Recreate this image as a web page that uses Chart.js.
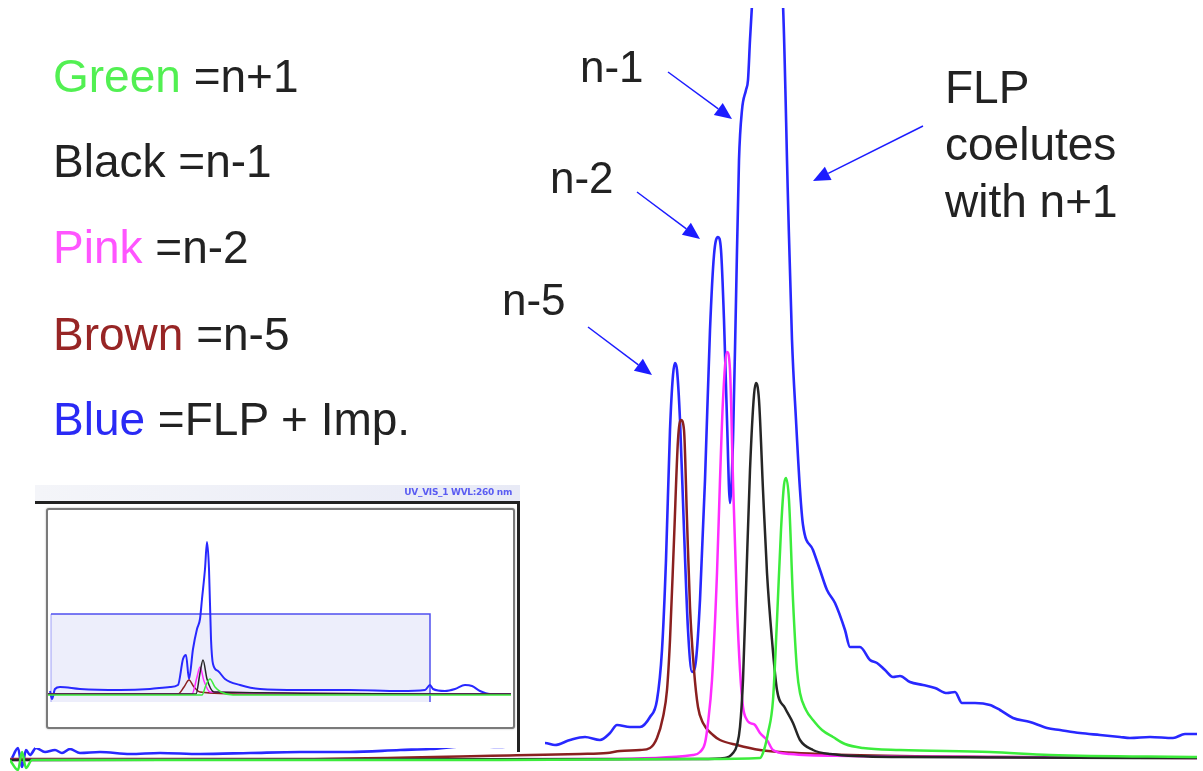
<!DOCTYPE html>
<html>
<head>
<meta charset="utf-8">
<script src="https://cdn.jsdelivr.net/npm/chart.js@4"></script>
<style>
  body { margin: 0; background: #fff; }
  #wrap { position: relative; width: 1203px; height: 771px; overflow: hidden; font-family: "Liberation Sans", Arial, sans-serif; }
  #main { position: absolute; left: 0; top: 0; }
  .txt { position: absolute; white-space: pre; color: #222; line-height: 1; }
  .key { font-size: 46px; left: 53px; }
  .peak { font-size: 44px; }
  #flp { left: 945px; top: 59px; font-size: 46px; line-height: 57px; }
  #insetBack { position: absolute; left: 35px; top: 483px; width: 510px; height: 265px; background: #fff; }
  #insetHead { position: absolute; left: 35px; top: 485px; width: 485px; height: 16px;
    background: linear-gradient(to right, #f4f5f9, #e8eaf6); }
  #insetHead span { position: absolute; right: 8px; top: 2px; font: bold 9px "DejaVu Sans", sans-serif;
    color: #5a5cf2; letter-spacing: -0.3px; filter: blur(0.4px); }
  #insetFrame { position: absolute; left: 35px; top: 501px; width: 482px; height: 248px;
    border-top: 3px solid #222; border-right: 3px solid #222; }
  #insetBox { position: absolute; left: 46px; top: 508px; width: 465px; height: 217px;
    border: 2px solid #7a7a7a; border-radius: 3px; background: #fff; box-shadow: 0 0 2px #aaa; }
  #inset { position: absolute; left: 48px; top: 510px; }
</style>
</head>
<body>
<div id="wrap">
  <canvas id="main" width="1203" height="771"></canvas>

  <div class="txt key" style="top:53px"><span style="color:#52f052">Green</span> =n+1</div>
  <div class="txt key" style="top:138px">Black =n-1</div>
  <div class="txt key" style="top:224px"><span style="color:#ff55ff">Pink</span> =n-2</div>
  <div class="txt key" style="top:311px"><span style="color:#972525">Brown</span> =n-5</div>
  <div class="txt key" style="top:396px"><span style="color:#2a2af5">Blue</span> =FLP + Imp.</div>

  <div class="txt peak" style="left:580px; top:45px">n-1</div>
  <div class="txt peak" style="left:550px; top:156px">n-2</div>
  <div class="txt peak" style="left:502px; top:278px">n-5</div>
  <div class="txt" id="flp">FLP<br>coelutes<br>with n+1</div>

  <div id="insetBack"></div>
  <div id="insetHead"><span>UV_VIS_1 WVL:260 nm</span></div>
  <div id="insetFrame"></div>
  <div id="insetBox"></div>
  <canvas id="inset" width="463" height="215"></canvas>
</div>

<script>
// retention time (arbitrary units) and detector signal for each trace
const blueTime = [0.2, 0.8, 1.2, 1.6, 2.0, 2.6, 3.5, 4.5, 5.2, 6.0, 7.0, 9.0, 12.0, 15.0, 19.0, 24.0, 29.0, 34.0, 39.0, 42.0,
  46.0, 49.0, 51.0, 53.5, 54.5, 56.0, 57.5, 59.0, 60.0, 60.7, 62.0, 63.0, 64.0, 64.7, 65.2, 65.6, 66.0, 66.3, 66.5, 66.7,
  67.0, 67.4, 67.8, 68.2, 68.6, 69.0, 69.5, 70.0, 70.4, 70.8, 71.1, 71.4, 71.7, 72.0, 72.3, 72.6, 72.9, 73.2, 73.6, 73.8,
  74.0, 74.2, 74.6, 75.5, 76.5, 77.3, 77.8, 78.2, 78.6, 79.0, 79.3, 80.3, 81.0, 81.7, 82.5, 83.5, 84.0, 85.0, 86.0, 86.7,
  87.5, 88.3, 89.0, 90.0, 91.3, 92.5, 93.7, 94.5, 95.2, 96.5, 98.0, 99.0, 100.3, 102.0, 103.7, 105.0, 107.0, 109.0, 111.0,
  112.0, 114.0, 116.3, 117.5, 118.7];
const blueSignal = [1.3, 2.3, 0.4, 2.1, 1.6, 2.3, 1.9, 2.1, 1.8, 2.2, 1.8, 1.9, 1.7, 1.8, 1.7, 1.8, 1.9, 1.9, 2.1, 2.2,
  2.5, 2.4, 2.6, 2.8, 2.6, 3.1, 3.4, 3.1, 3.8, 4.6, 4.4, 4.4, 5.4, 7.1, 12.1, 21.1, 34.1, 39.6, 40.8, 40.1,
  35.1, 24.1, 14.1, 9.9, 11.1, 17.1, 29.1, 44.1, 51.6, 53.4, 52.1, 45.1, 35.1, 26.8, 33.1, 47.1, 61.1, 66.1, 68.1, 69.1,
  73.1, 76.6, 83.1, 89.1, 83.1, 76.6, 57.1, 43.1, 35.1, 28.1, 24.6, 22.1, 20.1, 18.1, 16.8, 14.1, 12.4, 12.4, 11.1, 10.8,
  10.1, 9.4, 9.5, 8.9, 8.6, 8.3, 7.8, 7.9, 6.8, 6.8, 6.6, 6.1, 5.3, 4.9, 4.3, 4.1, 3.8, 3.6, 3.4,
  3.3, 3.4, 3.3, 3.7, 3.7];

const brownTime = [0, 29, 52, 57, 59.7, 61, 63, 64, 64.7, 65.3, 65.7, 66, 66.4, 66.8, 67.1, 67.4, 67.7, 68, 68.4, 68.8,
  69.3, 70.3, 71, 72.7, 75, 77, 84, 99, 118.7];
const brownSignal = [1.2, 1.2, 1.6, 1.7, 1.8, 2.0, 2.1, 2.3, 3.3, 5.4, 8.1, 13.1, 23.1, 33.1, 35.1, 34.1, 25.1, 16.4, 10.1, 6.4,
  4.8, 3.6, 3.1, 2.6, 2.1, 1.9, 1.6, 1.4, 1.3];

const pinkTime = [0, 59, 68.3, 69, 69.5, 69.8, 70.2, 70.7, 71, 71.3, 71.7, 72, 72.3, 72.7, 73, 73.3, 73.7, 74, 74.5, 75,
  75.7, 76.3, 78, 84, 99, 118.7];
const pinkSignal = [1.1, 1.2, 1.6, 1.9, 2.8, 4.8, 9.1, 19.8, 29.1, 37.1, 41.9, 40.1, 29.1, 16.4, 10.1, 6.4, 5.1, 4.8, 4.6, 3.8,
  3.1, 2.1, 1.7, 1.5, 1.4, 1.3];

const blackTime = [0, 69, 71.5, 72.3, 72.7, 73, 73.3, 73.6, 74, 74.4, 74.6, 74.9, 75.3, 75.7, 76.2, 76.7, 77.5, 78.3, 79,
  80.3, 82, 89, 118.7];
const blackSignal = [1.1, 1.2, 1.3, 1.8, 2.6, 4.4, 9.1, 18.1, 30.1, 37.6, 38.8, 37.1, 28.1, 19.8, 13.1, 8.1, 6.3, 4.8, 3.1,
  2.1, 1.7, 1.4, 1.3];

const greenTime = [0, 0.8, 1.2, 1.6, 2.2, 49, 69, 75, 75.4, 75.8, 76.3, 76.7, 77.1, 77.4, 77.6, 77.9, 78.3, 78.7, 79,
  79.6, 80.3, 81.2, 82.3, 83.5, 85.3, 89, 98, 104, 118.7];
const greenSignal = [1.1, 0.1, 1.9, 0.3, 1.1, 1.1, 1.2, 1.3, 2.1, 3.8, 7.1, 15.1, 24.1, 28.6, 29.3, 27.1, 17.1, 10.1, 7.8,
  6.1, 5.1, 4.1, 3.4, 2.7, 2.3, 2.1, 1.9, 1.6, 1.4];

// overview trace of the whole run
const overviewTime = [0.2, 0.4, 0.7, 1.2, 3.2, 7.2, 10.2, 12.2, 13.0, 13.5, 13.8, 14.1, 14.5, 14.9, 15.2, 15.4, 15.7, 15.9,
  16.1, 16.3, 16.5, 17.0, 17.7, 19.2, 21.2, 25.2, 30.2, 35.2, 37.7, 38.2, 38.5, 39.7, 40.7, 41.7, 42.4, 43.2, 44.2, 46.4];
const overviewSignal = [3.4, 2.6, 3.6, 3.8, 3.6, 3.5, 3.6, 3.8, 4.0, 6.6, 7.0, 4.6, 7.6, 9.6, 10.6, 12.6, 15.6, 18.3,
  15.6, 8.6, 6.1, 5.4, 4.6, 4.0, 3.6, 3.5, 3.5, 3.4, 3.5, 4.0, 3.6, 3.4, 3.6, 4.0, 3.9, 3.4, 3.1, 3.1];
const overviewBrownTime = [0, 13.0, 13.6, 14.1, 14.6, 15.2, 20, 46.4];
const overviewBrownSignal = [3.1, 3.1, 3.8, 4.5, 3.8, 3.3, 3.1, 3.1];
const overviewPinkTime = [0, 14.4, 14.9, 15.2, 15.6, 16.2, 46.4];
const overviewPinkSignal = [3.1, 3.1, 4.8, 5.8, 4.4, 3.3, 3.1];
const overviewBlackTime = [0, 14.8, 15.2, 15.5, 15.9, 16.6, 46.4];
const overviewBlackSignal = [3.1, 3.1, 5.2, 6.5, 4.6, 3.3, 3.1];
const overviewGreenTime = [0, 15.4, 15.8, 16.2, 16.7, 17.3, 18.5, 46.4];
const overviewGreenSignal = [3.0, 3.0, 4.0, 4.6, 3.8, 3.3, 3.0, 3.0];
const zoomWindow = { from: 0.3, to: 38.2, low: 2.3, high: 11.1 };

// arrows: start and tip in data units
const arrows = [
  { x0: 65.8, y0: 69.9, x1: 72.2, y1: 65.2 },
  { x0: 62.7, y0: 57.9, x1: 69.0, y1: 53.2 },
  { x0: 57.8, y0: 44.4, x1: 64.2, y1: 39.6 },
  { x0: 91.3, y0: 64.5, x1: 80.3, y1: 59.0 }
];

function pts(xs, ys) {
  return xs.map((x, i) => ({ x: x, y: ys[i] }));
}

function trace(xs, ys, color, width) {
  return {
    data: pts(xs, ys),
    borderColor: color,
    borderWidth: width,
    pointRadius: 0,
    fill: false,
    cubicInterpolationMode: 'monotone'
  };
}

const arrowPlugin = {
  id: 'arrows',
  afterDatasetsDraw(chart) {
    const ctx = chart.ctx, xs = chart.scales.x, ys = chart.scales.y;
    ctx.save();
    ctx.strokeStyle = '#1c1cff';
    ctx.fillStyle = '#1c1cff';
    ctx.lineWidth = 1.5;
    arrows.forEach(a => {
      const x0 = xs.getPixelForValue(a.x0), y0 = ys.getPixelForValue(a.y0);
      const x1 = xs.getPixelForValue(a.x1), y1 = ys.getPixelForValue(a.y1);
      const ang = Math.atan2(y1 - y0, x1 - x0);
      const len = 17, half = 7.5;
      const bx = x1 - len * Math.cos(ang), by = y1 - len * Math.sin(ang);
      ctx.beginPath();
      ctx.moveTo(x0, y0);
      ctx.lineTo(bx, by);
      ctx.stroke();
      ctx.beginPath();
      ctx.moveTo(x1, y1);
      ctx.lineTo(bx + half * Math.sin(ang), by - half * Math.cos(ang));
      ctx.lineTo(bx - half * Math.sin(ang), by + half * Math.cos(ang));
      ctx.closePath();
      ctx.fill();
    });
    ctx.restore();
  }
};

// green on top, blue underneath
new Chart(document.getElementById('main'), {
  type: 'line',
  data: {
    datasets: [
      trace(greenTime, greenSignal, '#3cec3c', 2.5),
      trace(blackTime, blackSignal, '#262626', 2.5),
      trace(pinkTime, pinkSignal, '#ff2cff', 2.5),
      trace(brownTime, brownSignal, '#8a2020', 2.5),
      trace(blueTime, blueSignal, '#2828ff', 2.6)
    ]
  },
  options: {
    responsive: false,
    animation: false,
    layout: { padding: { left: 10, right: 6, top: 8, bottom: 0 } },
    plugins: { legend: { display: false }, tooltip: { enabled: false } },
    scales: {
      x: { type: 'linear', min: 0, max: 118.7, display: false },
      y: { min: 0, max: 76.3, display: false }
    }
  },
  plugins: [arrowPlugin]
});

const windowPlugin = {
  id: 'zoomWindow',
  beforeDatasetsDraw(chart) {
    const ctx = chart.ctx, xs = chart.scales.x, ys = chart.scales.y;
    const l = xs.getPixelForValue(zoomWindow.from), r = xs.getPixelForValue(zoomWindow.to);
    const t = ys.getPixelForValue(zoomWindow.high), b = ys.getPixelForValue(zoomWindow.low);
    ctx.save();
    ctx.fillStyle = 'rgba(222, 224, 248, 0.55)';
    ctx.fillRect(l, t, r - l, b - t);
    ctx.strokeStyle = '#5050f0';
    ctx.lineWidth = 1.5;
    ctx.beginPath();
    ctx.moveTo(l, t);
    ctx.lineTo(r, t);
    ctx.lineTo(r, b);
    ctx.stroke();
    ctx.strokeStyle = 'rgba(80, 80, 240, 0.35)';
    ctx.beginPath();
    ctx.moveTo(l, t);
    ctx.lineTo(l, b);
    ctx.stroke();
    ctx.restore();
  }
};

new Chart(document.getElementById('inset'), {
  type: 'line',
  data: {
    datasets: [
      trace(overviewGreenTime, overviewGreenSignal, '#3cec3c', 1.5),
      trace(overviewBlackTime, overviewBlackSignal, '#262626', 1.5),
      trace(overviewPinkTime, overviewPinkSignal, '#ff2cff', 1.5),
      trace(overviewBrownTime, overviewBrownSignal, '#8a2020', 1.5),
      trace(overviewTime, overviewSignal, '#2828ff', 2)
    ]
  },
  options: {
    responsive: false,
    animation: false,
    layout: { padding: 0 },
    plugins: { legend: { display: false }, tooltip: { enabled: false } },
    scales: {
      x: { type: 'linear', min: 0, max: 46.3, display: false },
      y: { min: 0, max: 21.5, display: false }
    }
  },
  plugins: [windowPlugin]
});
</script>
</body>
</html>
